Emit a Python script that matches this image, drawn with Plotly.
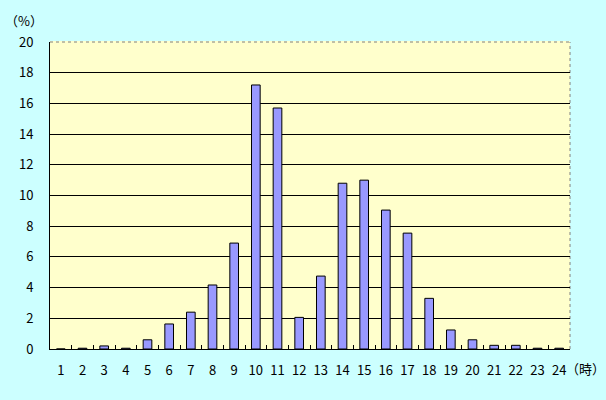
import plotly.graph_objects as go

hours = [str(h) for h in range(1, 25)]
share = [0.0, 0.05, 0.2, 0.05, 0.6, 1.63, 2.4, 4.17, 6.9, 17.2, 15.7, 2.06,
         4.75, 10.8, 11.0, 9.05, 7.55, 3.3, 1.24, 0.6, 0.24, 0.24, 0.05, 0.05]
y_ticks = list(range(0, 21, 2))

FONT = "Noto Sans CJK JP"

fig = go.Figure(go.Bar(
    x=hours, y=share,
    marker=dict(color="#9999FF", line=dict(color="black", width=1)),
    width=0.4,
))

fig.update_layout(
    width=606, height=400,
    margin=dict(l=50, r=36, t=42, b=51),
    paper_bgcolor="#CCFFFF",
    plot_bgcolor="#FFFFCC",
    showlegend=False,
    font=dict(family=FONT, size=12, color="black"),
)
fig.update_xaxes(
    type="category", showline=True, linecolor="black", linewidth=1,
    ticks="inside", tickson="boundaries", ticklen=4, tickcolor="black",
    showgrid=False, ticklabelstandoff=9, tickangle=0, automargin=False,
    tickfont=dict(size=13),
)
fig.update_yaxes(
    range=[0, 20], tickvals=y_ticks, showline=True, linecolor="black", linewidth=1,
    showgrid=True, gridcolor="black", gridwidth=1, zeroline=False,
    ticklabelstandoff=13, automargin=False, tickfont=dict(size=13),
)
# hide grid line at top and draw gray dotted frame on top/right
fig.add_shape(type="line", xref="paper", yref="paper", x0=0, x1=1, y0=1, y1=1,
              line=dict(color="#FFFFCC", width=2), layer="between")
fig.add_shape(type="line", xref="paper", yref="paper", x0=0, x1=1, y0=1, y1=1,
              line=dict(color="#808080", width=1, dash="dot"), layer="between")
fig.add_shape(type="line", xref="paper", yref="paper", x0=1, x1=1, y0=0, y1=1,
              line=dict(color="#808080", width=1, dash="dot"), layer="between")

fig.add_annotation(text="（%）", xref="paper", yref="paper", x=-0.05, y=1.0,
                   yshift=22, xanchor="center", yanchor="middle", showarrow=False,
                   font=dict(family=FONT, size=13))
fig.add_annotation(text="（時）", xref="paper", yref="paper", x=1.0, y=0,
                   xshift=-6, yshift=-19, xanchor="left", yanchor="middle",
                   showarrow=False, font=dict(family=FONT, size=13))

fig.write_html("out.html", config={"displayModeBar": False},
               post_script="document.body.style.margin='0';")
